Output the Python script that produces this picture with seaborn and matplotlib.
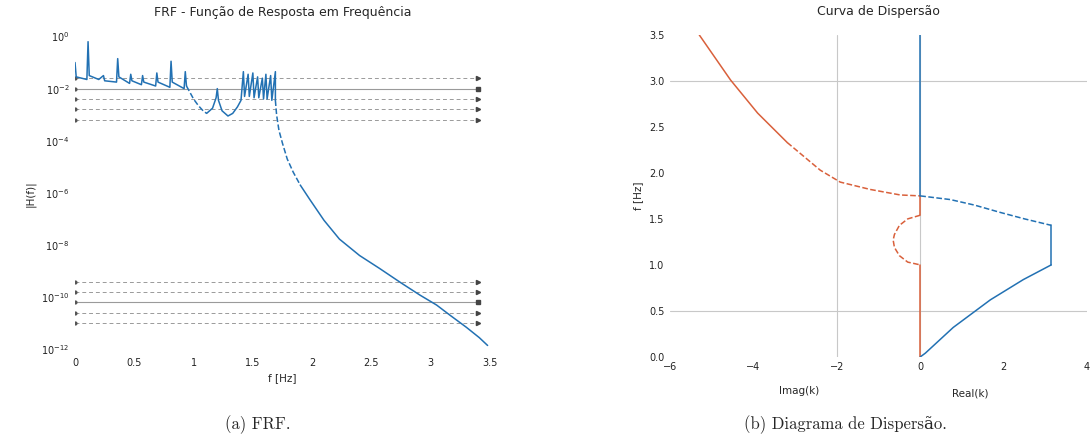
import numpy as np
import seaborn as sns
import matplotlib
matplotlib.use("Agg")
import matplotlib.pyplot as plt

# ---- FRF (left) : frequency and log10 |H| ----
frf_f_a = [0.00, 0.01, 0.10, 0.11, 0.12, 0.20, 0.24, 0.25, 0.35, 0.36, 0.37, 0.46, 0.47, 0.48,
           0.56, 0.57, 0.58, 0.68, 0.69, 0.70, 0.80, 0.81, 0.82, 0.92, 0.93, 0.94]
frf_h_a = [-1.0, -1.55, -1.65, -0.2, -1.5, -1.65, -1.5, -1.7, -1.75, -0.85, -1.55, -1.8, -1.45, -1.7,
           -1.85, -1.5, -1.75, -1.9, -1.4, -1.75, -1.95, -0.95, -1.75, -2.0, -1.35, -1.9]
frf_f_b = [0.94, 0.97, 1.00, 1.04, 1.08, 1.11]
frf_h_b = [-1.9, -2.15, -2.4, -2.65, -2.85, -2.95]
frf_f_c = [1.11, 1.16, 1.19, 1.20, 1.21, 1.24, 1.29, 1.33, 1.37, 1.40, 1.42, 1.43, 1.46, 1.47,
           1.50, 1.51, 1.54, 1.55, 1.58, 1.59, 1.61, 1.62, 1.65, 1.66, 1.69, 1.69]
frf_h_c = [-2.95, -2.75, -2.35, -2.0, -2.45, -2.85, -3.05, -2.95, -2.7, -2.45, -1.35, -2.3, -1.45, -2.3,
           -1.4, -2.35, -1.55, -2.35, -1.6, -2.4, -1.45, -2.4, -1.5, -2.45, -1.35, -2.45]
frf_f_d = [1.69, 1.70, 1.72, 1.75, 1.79, 1.84, 1.90]
frf_h_d = [-2.45, -3.0, -3.6, -4.1, -4.7, -5.2, -5.7]
frf_f_e = [1.90, 1.98, 2.10, 2.23, 2.40, 2.57, 2.75, 2.91, 3.05, 3.16, 3.30, 3.41, 3.48]
frf_h_e = [-5.7, -6.25, -7.05, -7.77, -8.4, -8.9, -9.45, -9.92, -10.3, -10.68, -11.15, -11.55, -11.85]

ref_levels_dashed = [-1.6, -2.4, -2.8, -3.2, -9.4, -9.8, -10.6, -11.0]
ref_levels_solid = [-2.0, -10.2]
ref_span = [0.0, 3.4]
frf_yticks = [0, -2, -4, -6, -8, -10, -12]
frf_xticks = [0, 0.5, 1, 1.5, 2, 2.5, 3, 3.5]

# ---- Dispersion (right) : k (imag < 0, real > 0) vs frequency ----
im_k_1 = [-5.3, -4.55, -3.9, -3.19]
im_f_1 = [3.5, 3.01, 2.65, 2.33]
im_k_2 = [-3.19, -2.40, -1.92, -1.20, -0.48, 0.0]
im_f_2 = [2.33, 2.03, 1.90, 1.82, 1.76, 1.75]
im_k_3 = [0.0, 0.0]
im_f_3 = [1.75, 1.54]
im_k_4 = [0.0, -0.3, -0.5, -0.62, -0.65, -0.62, -0.5, -0.3, 0.0]
im_f_4 = [1.54, 1.50, 1.43, 1.33, 1.27, 1.19, 1.10, 1.03, 1.0]
im_k_5 = [0.0, 0.0]
im_f_5 = [1.0, 0.0]

re_k_1 = [0.0, 0.0]
re_f_1 = [3.5, 1.75]
re_k_2 = [0.0, 0.72, 1.3, 1.92, 2.5, 3.14]
re_f_2 = [1.75, 1.71, 1.65, 1.57, 1.5, 1.43]
re_k_3 = [3.14, 3.14]
re_f_3 = [1.43, 1.0]
re_k_4 = [3.14, 2.47, 1.68, 0.79, 0.12, 0.0]
re_f_4 = [1.0, 0.84, 0.62, 0.32, 0.04, 0.0]

disp_grid_x = [-2, 0]
disp_grid_y = [3.0, 0.5]

BLUE = "#2271b3"
RED = "#d9603b"
GRID = "#c8c8c8"

sns.set_theme(style="white")
plt.rcParams["font.family"] = ["DejaVu Sans"]


def seg(ax, x, y, color, dashed=False, logy=False):
    yy = [10.0 ** v for v in y] if logy else y
    sns.lineplot(x=x, y=yy, ax=ax, color=color, linewidth=1.1,
                 linestyle="--" if dashed else "-", sort=False, estimator=None)


fig = plt.figure(figsize=(10.92, 4.45), dpi=100)
ax1 = fig.add_axes([0.0687, 0.209, 0.380, 0.712])
ax2 = fig.add_axes([0.6136, 0.198, 0.3819, 0.7236])

# left: reference lines
for lv in ref_levels_dashed:
    ax1.plot(ref_span, [10.0 ** lv] * 2, color="#9a9a9a", lw=0.7, ls=(0, (4, 3)), zorder=1)
    ax1.plot(ref_span[0], 10.0 ** lv, marker="o", ms=2, color="#555555")
    ax1.plot(ref_span[1], 10.0 ** lv, marker=">", ms=3, color="#444444")
for lv in ref_levels_solid:
    ax1.plot(ref_span, [10.0 ** lv] * 2, color="#9a9a9a", lw=0.8, zorder=1)
    ax1.plot(ref_span[0], 10.0 ** lv, marker="o", ms=2, color="#555555")
    ax1.plot(ref_span[1], 10.0 ** lv, marker="s", ms=2.5, color="#444444")

seg(ax1, frf_f_a, frf_h_a, BLUE, logy=True)
seg(ax1, frf_f_b, frf_h_b, BLUE, dashed=True, logy=True)
seg(ax1, frf_f_c, frf_h_c, BLUE, logy=True)
seg(ax1, frf_f_d, frf_h_d, BLUE, dashed=True, logy=True)
seg(ax1, frf_f_e, frf_h_e, BLUE, logy=True)

ax1.set_yscale("log")
ax1.set_ylim(10.0 ** -12.1, 10.0 ** 0.05)
ax1.set_xlim(0, 3.5)
ax1.set_yticks([10.0 ** t for t in frf_yticks])
ax1.set_yticklabels([r"$10^{%d}$" % t for t in frf_yticks])
ax1.minorticks_off()
ax1.set_xticks(frf_xticks)
ax1.set_xticklabels(["0", "0.5", "1", "1.5", "2", "2.5", "3", "3.5"])
ax1.set_title("FRF - Função de Resposta em Frequência", fontsize=9, pad=14)
ax1.set_xlabel("f [Hz]", fontsize=7.5)
ax1.set_ylabel("|H(f)|", fontsize=7.5)

# right: dispersion
for gx in disp_grid_x:
    ax2.axvline(gx, color=GRID, lw=0.8, zorder=0)
for gy in disp_grid_y:
    ax2.axhline(gy, color=GRID, lw=0.8, zorder=0)

seg(ax2, im_k_1, im_f_1, RED)
seg(ax2, im_k_2, im_f_2, RED, dashed=True)
seg(ax2, im_k_3, im_f_3, RED)
seg(ax2, im_k_4, im_f_4, RED, dashed=True)
seg(ax2, im_k_5, im_f_5, RED)
seg(ax2, re_k_1, re_f_1, BLUE)
seg(ax2, re_k_2, re_f_2, BLUE, dashed=True)
seg(ax2, re_k_3, re_f_3, BLUE)
seg(ax2, re_k_4, re_f_4, BLUE)

ax2.set_xlim(-6, 4)
ax2.set_ylim(0, 3.5)
ax2.set_xticks([-6, -4, -2, 0, 2, 4])
ax2.set_yticks([0, 0.5, 1, 1.5, 2, 2.5, 3, 3.5])
ax2.set_title("Curva de Dispersão", fontsize=9, pad=14)
ax2.set_ylabel("f [Hz]", fontsize=7.5)
ax2.set_xlabel("")
ax2.text(-2.9, -0.37, "Imag(k)", fontsize=7.5, ha="center", va="center",
         transform=ax2.transData, clip_on=False)
ax2.text(1.2, -0.4, "Real(k)", fontsize=7.5, ha="center", va="center",
         transform=ax2.transData, clip_on=False)

for ax in (ax1, ax2):
    for s in ax.spines.values():
        s.set_visible(False)
    ax.tick_params(labelsize=7, length=0, pad=4, colors="#222222")

serif = ["cmr10", "DejaVu Serif"]
fig.text(0.236, 0.045, "(a) FRF.", fontsize=12, ha="center", va="center", family=serif)
fig.text(0.774, 0.045, "(b) Diagrama de Dispersão.", fontsize=12, ha="center", va="center", family=serif)

fig.savefig("out.png", dpi=100)
